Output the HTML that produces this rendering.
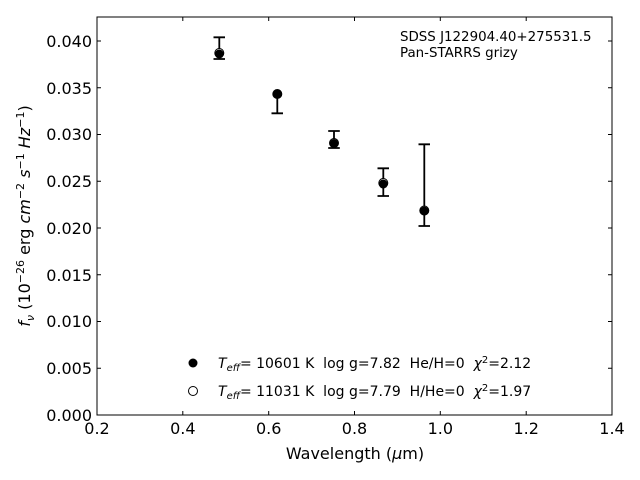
<!DOCTYPE html>
<html><head><style>body{margin:0;background:#fff}svg{display:block}text{font-family:"DejaVu Sans","Liberation Sans",sans-serif;fill:#000;white-space:pre}</style></head>
<body>
<svg width="640" height="480" viewBox="0 0 640 480" xmlns="http://www.w3.org/2000/svg" xml:space="preserve">
<rect x="97" y="17" width="515" height="398" fill="none" stroke="#000" stroke-width="1"/>
<g stroke="#000" stroke-width="1">
<line x1="97" y1="415" x2="97" y2="411"/><line x1="97" y1="17" x2="97" y2="21"/>
<line x1="182.8" y1="415" x2="182.8" y2="411"/><line x1="182.8" y1="17" x2="182.8" y2="21"/>
<line x1="268.7" y1="415" x2="268.7" y2="411"/><line x1="268.7" y1="17" x2="268.7" y2="21"/>
<line x1="354.5" y1="415" x2="354.5" y2="411"/><line x1="354.5" y1="17" x2="354.5" y2="21"/>
<line x1="440.3" y1="415" x2="440.3" y2="411"/><line x1="440.3" y1="17" x2="440.3" y2="21"/>
<line x1="526.2" y1="415" x2="526.2" y2="411"/><line x1="526.2" y1="17" x2="526.2" y2="21"/>
<line x1="97" y1="368.25" x2="101" y2="368.25"/><line x1="612" y1="368.25" x2="608" y2="368.25"/>
<line x1="97" y1="321.5" x2="101" y2="321.5"/><line x1="612" y1="321.5" x2="608" y2="321.5"/>
<line x1="97" y1="274.75" x2="101" y2="274.75"/><line x1="612" y1="274.75" x2="608" y2="274.75"/>
<line x1="97" y1="228" x2="101" y2="228"/><line x1="612" y1="228" x2="608" y2="228"/>
<line x1="97" y1="181.25" x2="101" y2="181.25"/><line x1="612" y1="181.25" x2="608" y2="181.25"/>
<line x1="97" y1="134.5" x2="101" y2="134.5"/><line x1="612" y1="134.5" x2="608" y2="134.5"/>
<line x1="97" y1="87.75" x2="101" y2="87.75"/><line x1="612" y1="87.75" x2="608" y2="87.75"/>
<line x1="97" y1="41" x2="101" y2="41"/><line x1="612" y1="41" x2="608" y2="41"/>
</g>
<g font-size="16" text-anchor="middle">
<text x="97" y="434">0.2</text><text x="182.8" y="434">0.4</text><text x="268.7" y="434">0.6</text><text x="354.5" y="434">0.8</text><text x="440.3" y="434">1.0</text><text x="526.2" y="434">1.2</text><text x="612" y="434">1.4</text>
</g>
<g font-size="16" text-anchor="end">
<text x="92" y="421">0.000</text><text x="92" y="374">0.005</text><text x="92" y="327">0.010</text><text x="92" y="281">0.015</text><text x="92" y="234">0.020</text><text x="92" y="187">0.025</text><text x="92" y="140">0.030</text><text x="92" y="94">0.035</text><text x="92" y="47">0.040</text>
</g>
<text x="355" y="459" font-size="16" text-anchor="middle">Wavelength (<tspan font-style="italic">μ</tspan>m)</text>
<text transform="translate(30,216) rotate(-90)" font-size="16" text-anchor="middle"><tspan font-style="italic">f</tspan><tspan font-style="italic" font-size="11" dy="4">ν</tspan><tspan dy="-4"> (10</tspan><tspan font-size="11" dy="-6">−26</tspan><tspan dy="6"> erg </tspan><tspan font-style="italic">cm</tspan><tspan font-size="11" dy="-6">−2</tspan><tspan dy="6"> </tspan><tspan font-style="italic">s</tspan><tspan font-size="11" dy="-6">−1</tspan><tspan dy="6"> </tspan><tspan font-style="italic">Hz</tspan><tspan font-size="11" dy="-6">−1</tspan><tspan dy="6">)</tspan></text>
<text x="400" y="41" font-size="13.4">SDSS J122904.40+275531.5</text>
<text x="400" y="57" font-size="13.4">Pan-STARRS grizy</text>
<g stroke="#000" stroke-width="1.8" fill="none">
<path d="M219.3 37.3V59M213.5 37.3H225M213.5 59H225"/>
<path d="M277.3 94V113.3M271.5 113.3H283"/>
<path d="M334 131V148M328.2 131H339.8M328.2 148H339.8"/>
<path d="M383.3 168.3V196M377.5 168.3H389M377.5 196H389"/>
<path d="M424.3 144.3V226M418.5 144.3H430M418.5 226H430"/>
</g>
<g fill="#fff" stroke="#000" stroke-width="1">
<circle cx="219.3" cy="53" r="4.5"/><circle cx="277.3" cy="94" r="4.5"/><circle cx="334" cy="143" r="4.5"/><circle cx="383.3" cy="183" r="4.5"/><circle cx="424.3" cy="210.5" r="4.5"/>
</g>
<g fill="#000">
<circle cx="219.3" cy="54" r="4.5"/><circle cx="277.3" cy="94" r="4.5"/><circle cx="334" cy="143.5" r="4.5"/><circle cx="383.3" cy="184" r="4.5"/><circle cx="424.3" cy="211" r="4.5"/>
</g>
<circle cx="193" cy="363" r="4.5" fill="#000"/>
<circle cx="193" cy="391" r="4.5" fill="#fff" stroke="#000" stroke-width="1"/>
<g font-size="14">
<text x="218" y="368"><tspan font-style="italic">T</tspan><tspan font-style="italic" font-size="10" dy="3">eff</tspan><tspan dy="-3">= 10601 K  log g=7.82  He/H=0  </tspan><tspan font-style="italic">χ</tspan><tspan font-size="10" dy="-5">2</tspan><tspan dy="5">=2.12</tspan></text>
<text x="218" y="396"><tspan font-style="italic">T</tspan><tspan font-style="italic" font-size="10" dy="3">eff</tspan><tspan dy="-3">= 11031 K  log g=7.79  H/He=0  </tspan><tspan font-style="italic">χ</tspan><tspan font-size="10" dy="-5">2</tspan><tspan dy="5">=1.97</tspan></text>
</g>
</svg>
</body></html>
